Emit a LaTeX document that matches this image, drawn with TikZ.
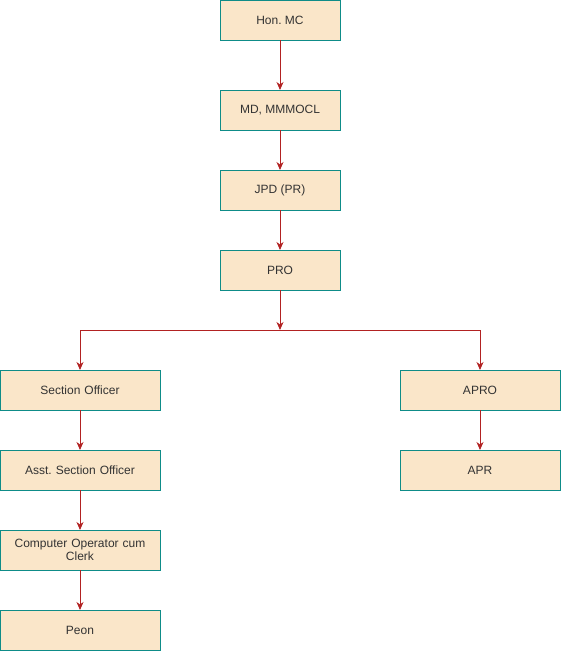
\documentclass[tikz,border=0pt]{standalone}
\usepackage{fontspec}
\setmainfont{Liberation Sans}
\usetikzlibrary{positioning, arrows.meta}
\frenchspacing

\definecolor{boxfill}{HTML}{FAE6C9}
\definecolor{boxline}{HTML}{0E8C88}
\definecolor{arrline}{HTML}{B22222}
\definecolor{txt}{HTML}{333333}

\begin{document}
\begin{tikzpicture}[x=1pt, y=1pt, node distance=40pt,
    post/.style={draw=boxline, fill=boxfill, line width=0.9pt, text=txt,
        minimum width=120pt, minimum height=40pt, inner sep=2pt, outer sep=0pt,
        align=center, font=\fontsize{12}{13}\selectfont},
    widepost/.style={post, minimum width=160pt, text width=150pt},
    link/.style={draw=arrline, line width=0.9pt,
        -{Stealth[length=8pt, width=7pt, inset=2.5pt]}}
    ]
    \useasboundingbox (0,0) rectangle (561,-651);

    % Top of the chain
    \node (hon) [post] at (280,-20) {Hon. MC};
    \node (md) [post, below=50pt of hon.south, anchor=north] {MD, MMMOCL};
    \node (jpd) [post, below=of md] {JPD (PR)};
    \node (pro) [post, below=of jpd] {PRO};

    % Split point below PRO
    \coordinate (split) at (280,-330);

    % Left branch
    \node (so) [widepost] at (80,-390) {Section Officer};
    \node (aso) [widepost, below=of so] {Asst. Section Officer};
    \node (coc) [widepost, below=of aso] {Computer Operator cum\\Clerk};
    \node (peon) [widepost, below=of coc] {Peon};

    % Right branch
    \node (apro) [widepost] at (480,-390) {APRO};
    \node (apr) [widepost, below=of apro] {APR};

    % Connectors
    \draw [link] (hon) -- (md);
    \draw [link] (md) -- (jpd);
    \draw [link] (jpd) -- (pro);
    \draw [link] (pro) -- (split);
    \draw [link] (split) -| (so);
    \draw [link] (split) -| (apro);
    \draw [link] (so) -- (aso);
    \draw [link] (aso) -- (coc);
    \draw [link] (coc) -- (peon);
    \draw [link] (apro) -- (apr);
\end{tikzpicture}
\end{document}
